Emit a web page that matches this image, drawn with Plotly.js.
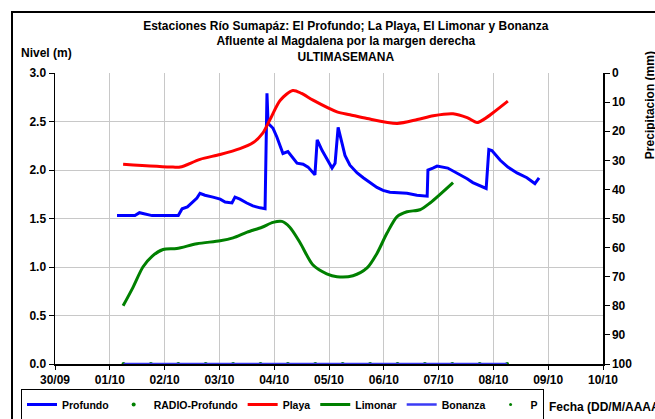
<!DOCTYPE html>
<html>
<head>
<meta charset="utf-8">
<script src="https://cdn.plot.ly/plotly-3.0.1.min.js"></script>
<style>
html,body{margin:0;padding:0;background:#fff;overflow:hidden;}
#chart{position:absolute;left:0;top:0;width:655px;height:419px;}
#frame{position:absolute;left:11px;top:11px;width:700px;height:500px;border:2px solid #000;pointer-events:none;}
</style>
</head>
<body>
<div id="chart"></div>
<div id="frame"></div>
<script>
// ---- data ----
const profundoX = ["2023-10-01 03:10","2023-10-01 11:00","2023-10-01 13:00","2023-10-01 18:30","2023-10-02 06:00","2023-10-02 07:40","2023-10-02 10:00","2023-10-02 12:30","2023-10-02 14:10","2023-10-02 15:30","2023-10-02 17:40","2023-10-02 21:10","2023-10-03 00:20","2023-10-03 02:30","2023-10-03 05:30","2023-10-03 06:50","2023-10-03 09:00","2023-10-03 12:00","2023-10-03 14:40","2023-10-03 17:50","2023-10-03 20:00","2023-10-03 20:50","2023-10-03 21:20","2023-10-03 23:30","2023-10-04 01:10","2023-10-04 03:50","2023-10-04 06:00","2023-10-04 10:00","2023-10-04 12:40","2023-10-04 14:50","2023-10-04 17:50","2023-10-04 18:50","2023-10-04 21:00","2023-10-04 23:10","2023-10-05 01:20","2023-10-05 02:40","2023-10-05 04:00","2023-10-05 05:40","2023-10-05 07:00","2023-10-05 09:10","2023-10-05 12:20","2023-10-05 15:00","2023-10-05 18:00","2023-10-05 21:00","2023-10-05 23:40","2023-10-06 02:40","2023-10-06 10:10","2023-10-06 14:30","2023-10-06 19:00","2023-10-06 19:20","2023-10-06 21:30","2023-10-06 23:20","2023-10-07 04:00","2023-10-07 08:00","2023-10-07 12:30","2023-10-07 15:00","2023-10-07 19:30","2023-10-07 20:50","2023-10-07 22:00","2023-10-07 23:20","2023-10-08 03:00","2023-10-08 06:20","2023-10-08 10:20","2023-10-08 14:40","2023-10-08 18:10","2023-10-08 20:00"];
const profundoY = [1.53,1.53,1.56,1.53,1.53,1.60,1.62,1.68,1.71,1.76,1.74,1.72,1.70,1.67,1.66,1.72,1.70,1.66,1.63,1.61,1.60,2.79,2.48,2.43,2.34,2.17,2.19,2.07,2.06,2.03,1.95,2.31,2.20,2.11,2.02,2.07,2.44,2.28,2.15,2.05,1.97,1.92,1.87,1.82,1.79,1.77,1.76,1.74,1.73,2.00,2.02,2.04,2.02,1.97,1.91,1.87,1.82,1.81,2.21,2.20,2.10,2.03,1.97,1.92,1.86,1.92];

const playaX = ["2023-10-01 05:50","2023-10-02 03:40","2023-10-02 06:50","2023-10-02 15:30","2023-10-03 00:20","2023-10-03 09:00","2023-10-03 14:40","2023-10-03 19:00","2023-10-03 22:10","2023-10-04 02:40","2023-10-04 08:10","2023-10-04 12:00","2023-10-04 17:00","2023-10-05 03:30","2023-10-05 09:10","2023-10-05 16:40","2023-10-06 05:50","2023-10-06 14:40","2023-10-06 21:40","2023-10-07 06:20","2023-10-07 12:30","2023-10-07 16:50","2023-10-07 20:20","2023-10-07 23:50","2023-10-08 06:20"];
const playaY = [2.06,2.03,2.03,2.11,2.16,2.22,2.28,2.38,2.52,2.72,2.82,2.79,2.72,2.60,2.57,2.53,2.48,2.52,2.56,2.58,2.54,2.49,2.53,2.59,2.71];

const limonarX = ["2023-10-01 05:50","2023-10-01 10:10","2023-10-01 14:30","2023-10-01 18:30","2023-10-01 23:20","2023-10-02 05:20","2023-10-02 14:10","2023-10-03 00:20","2023-10-03 06:00","2023-10-03 12:10","2023-10-03 18:40","2023-10-03 23:30","2023-10-04 03:20","2023-10-04 06:50","2023-10-04 11:20","2023-10-04 17:00","2023-10-04 23:00","2023-10-05 03:30","2023-10-05 10:30","2023-10-05 16:40","2023-10-05 21:00","2023-10-06 01:25","2023-10-06 05:50","2023-10-06 10:10","2023-10-06 15:50","2023-10-06 20:15","2023-10-07 06:20"];
const limonarY = [0.60,0.79,1.00,1.11,1.18,1.19,1.24,1.27,1.30,1.36,1.41,1.46,1.47,1.41,1.25,1.02,0.93,0.90,0.91,0.99,1.14,1.35,1.52,1.57,1.59,1.66,1.87];

const radioX = ["2023-10-01 06:00","2023-10-01 18:00","2023-10-02 06:00","2023-10-02 18:00","2023-10-03 06:00","2023-10-03 18:00","2023-10-04 06:00","2023-10-04 18:00","2023-10-05 06:00","2023-10-05 18:00","2023-10-06 06:00","2023-10-06 18:00","2023-10-07 06:00","2023-10-07 18:00","2023-10-08 06:00"];
const radioY = [0,0,0,0,0,0,0,0,0,0,0,0,0,0,0];

const bonanzaX = ["2023-10-01 06:00","2023-10-08 06:00"];
const bonanzaY = [0,0];

const pX = radioX;
const pY = [null,null,null,null,null,null,null,null,null,null,null,null,null,null,null];

const xTickVals = ["2023-09-30","2023-10-01","2023-10-02","2023-10-03","2023-10-04","2023-10-05","2023-10-06","2023-10-07","2023-10-08","2023-10-09","2023-10-10"];
const xTickText = ["30/09","01/10","02/10","03/10","04/10","05/10","06/10","07/10","08/10","09/10","10/10"];

// ---- chart ----
const F = "Liberation Sans, Arial, sans-serif";
const bold = (s)=>({family:F,size:s,color:"#000",weight:700});

const traces = [
  {name:"Profundo",x:profundoX,y:profundoY,mode:"lines",line:{color:"#0000ff",width:3},yaxis:"y"},
  {name:"RADIO-Profundo",x:radioX,y:radioY,mode:"markers",marker:{color:"#008000",size:4},yaxis:"y"},
  {name:"Playa",x:playaX,y:playaY,mode:"lines",line:{color:"#ff0000",width:3,shape:"spline",smoothing:0.8},yaxis:"y"},
  {name:"Limonar",x:limonarX,y:limonarY,mode:"lines",line:{color:"#008000",width:3,shape:"spline",smoothing:0.8},yaxis:"y"},
  {name:"Bonanza",x:bonanzaX,y:bonanzaY,mode:"lines",line:{color:"#3b3bf5",width:2.5},yaxis:"y"},
  {name:"P",x:pX,y:pY,mode:"markers",marker:{color:"#008000",size:3},yaxis:"y2"}
];

const layout = {
  width:655,height:419,
  margin:{l:55,r:52,t:73,b:55},
  paper_bgcolor:"#fff",plot_bgcolor:"#fff",
  showlegend:true,
  title:{text:"Estaciones Río Sumapáz: El Profundo; La Playa, El Limonar y Bonanza<br>Afluente al Magdalena por la margen derecha<br>ULTIMASEMANA",
         font:bold(12),x:0.528,xanchor:"center",y:0.929,yanchor:"top",xref:"container",yref:"container"},
  xaxis:{type:"date",range:["2023-09-30","2023-10-10"],tickmode:"array",tickvals:xTickVals,ticktext:xTickText,
         tickfont:bold(12),showgrid:true,gridcolor:"#c8c8c8",gridwidth:1,showline:true,linecolor:"#000",linewidth:1.5,
         ticks:"outside",ticklen:4,tickcolor:"#000",zeroline:false},
  yaxis:{range:[0,3],dtick:0.5,tick0:0,tickformat:".1f",tickfont:bold(12),showgrid:true,gridcolor:"#c8c8c8",gridwidth:1,
         showline:true,linecolor:"#000",linewidth:1.5,ticks:"outside",ticklen:5,tickcolor:"#000",zeroline:false},
  yaxis2:{overlaying:"y",side:"right",range:[100,0],dtick:10,tick0:0,tickfont:bold(12),showgrid:false,zeroline:false,
          showline:true,linecolor:"#000",linewidth:1.5,ticks:"outside",ticklen:5,tickcolor:"#000"},
  legend:{orientation:"h",xref:"container",yref:"container",x:21/655,xanchor:"left",y:1-389/419,yanchor:"top",
          bordercolor:"#000",borderwidth:1,bgcolor:"#fff",font:bold(10.5),traceorder:"normal",itemwidth:30},
  annotations:[
    {text:"Nivel (m)",xref:"paper",yref:"paper",x:-0.066,y:1.068,xanchor:"left",yanchor:"middle",showarrow:false,font:bold(12)},
    {text:"Precipitacion (mm)",xref:"paper",yref:"paper",x:1.086,y:0.89,xanchor:"center",yanchor:"middle",textangle:-90,showarrow:false,font:bold(12)},
    {text:"Fecha (DD/M/AAAA)",xref:"paper",yref:"paper",x:0.897,y:-0.148,xanchor:"left",yanchor:"middle",showarrow:false,font:bold(12)}
  ]
};

Plotly.newPlot("chart",traces,layout,{displayModeBar:false,staticPlot:true});
</script>
</body>
</html>
